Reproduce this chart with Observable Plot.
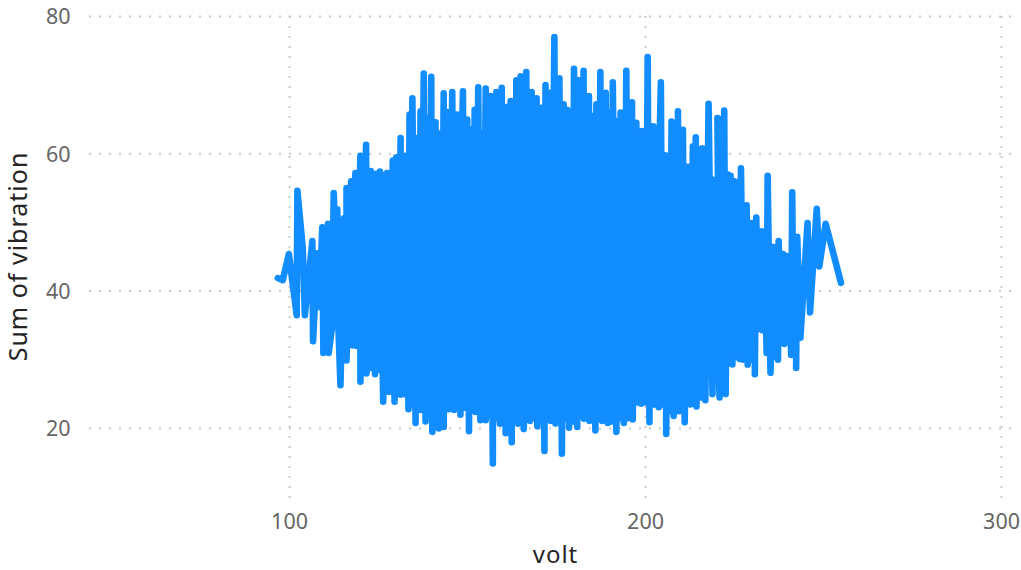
<!DOCTYPE html>
<html>
<head>
<meta charset="utf-8">
<script src="https://cdn.jsdelivr.net/npm/d3@7"></script>
<script src="https://cdn.jsdelivr.net/npm/@observablehq/plot@0.6"></script>
<style>
html,body{margin:0;padding:0;background:#fff;overflow:hidden}
svg{display:block}
.axis-title text{letter-spacing:1px}
</style>
</head>
<body>
<div id="chart"></div>
<script>
const xTicks = [100, 200, 300];
const yTicks = [20, 40, 60, 80];
const xLabel = "volt";
const yLabel = "Sum of vibration";

// Left tail of the series, in reading order
const headVolt = [96.7,98.1,99.8,102.0,102.2,103.7,104.3,106.4,106.6,107.8,108.3,109.2,109.5,110.8,111.0,112.0];
const headVib  = [41.9,41.6,45.4,36.5,54.6,46.3,36.5,47.3,32.7,45.5,37.7,49.3,31.0,49.8,31.0,35.0];

// Upper spikes of the dense body
const peakVolt = [112.4,113.4,115.3,116.0,117.3,118.5,119.9,121.5,122.8,124.2,125.4,126.0,127.4,129.0,130.0,131.2,132.6,133.7,134.5,135.7,136.8,137.7,138.8,139.8,141.0,141.9,143.3,144.3,145.7,147.1,148.7,149.9,151.0,152.0,153.0,155.1,156.5,158.1,159.6,161.0,162.1,163.7,164.9,166.5,168.0,169.4,170.7,171.9,173.1,174.4,175.8,177.0,178.0,179.9,181.3,182.6,184.1,185.2,186.2,187.3,188.8,190.8,192.1,193.0,194.6,196.2,197.4,198.9,200.6,202.2,204.3,205.6,207.3,209.1,210.5,211.9,213.3,214.1,215.9,217.7,219.0,220.2,222.1,223.9,225.0,226.8,228.4,229.7,231.1,232.6,234.3,235.9,237.4,238.6,239.6,241.2,242.6];
const peakVib  = [54.3,51.9,50.6,55.0,56.0,57.2,59.7,61.3,57.5,57.1,57.4,56.9,57.2,59.0,59.5,62.3,59.7,65.7,68.1,62.3,66.2,71.7,65.2,71.2,64.6,63.0,68.8,66.1,69.0,65.7,69.1,65.0,63.5,66.4,69.7,69.5,68.4,69.0,69.6,66.8,67.7,70.7,71.3,71.9,69.0,68.1,66.7,70.0,68.9,77.0,71.0,67.2,66.4,72.4,70.7,72.1,68.4,65.5,67.2,71.9,68.9,70.4,64.8,66.0,72.1,67.5,64.5,63.3,74.1,64.0,70.4,59.8,64.7,66.2,63.5,58.1,61.1,62.4,60.8,67.3,56.2,65.2,66.3,56.8,56.0,57.9,52.5,49.9,50.7,48.7,56.8,46.4,47.3,45.4,45.1,54.4,47.9];

// Shoulders on the upper edge, between the spikes
const upperShoulderVolt = [153.8,157.3,162.9,167.2,175.1,179.0,180.6,183.3,189.8,193.8,195.4,199.8,201.4,206.5,208.2,215.0,216.8,221.1,223.0,225.9,227.6,233.4,235.1,240.4];
const upperShoulderVib  = [63,68,67.5,69,68.5,66,69,68,66,65,63,62.5,63,59.5,64,60.5,57,65,57,53,52,48.5,46.5,45];

// Lower spikes of the dense body
const troughVolt = [114.3,116.0,117.6,119.9,121.6,122.6,124.0,126.3,127.9,129.5,131.2,133.4,135.4,136.8,138.2,140.1,141.9,143.3,144.7,146.2,148.0,150.4,152.2,153.6,155.1,157.1,159.1,160.7,162.4,164.2,165.8,167.5,169.6,171.6,173.3,174.7,176.5,178.5,180.8,182.7,184.2,185.9,187.8,189.4,191.8,193.9,196.4,198.8,201.1,203.7,205.8,207.9,211.0,214.3,216.8,220.8,222.5,224.4,226.4,228.7,230.7,232.8,235.1,237.2,239.0,240.9,242.3,243.5];
const troughVib  = [26.3,29.9,32.1,26.8,28.0,28.8,27.9,23.9,25.3,23.9,24.9,22.8,20.8,22.7,21.0,19.5,20.0,20.2,22.8,22.7,22.0,19.6,22.4,21.2,21.2,14.9,20.7,19.3,18.0,20.7,19.9,21.1,20.3,16.7,21.1,20.7,16.3,20.1,20.2,21.4,21.1,19.7,21.1,20.8,19.5,20.8,21.3,23.6,20.9,23.1,19.2,21.8,20.9,23.2,24.1,24.5,25.0,29.3,30.1,29.3,27.9,34.3,28.1,30.0,32.3,30.7,28.8,33.2];

// Shoulders on the lower edge, between the spikes
const lowerShoulderVolt = [115.2,116.8,118.8,120.8,123.3,125.2,127.1,128.7,130.3,132.3,134.4,136.1,137.5,139.1,141.0,142.6,144.0,145.5,147.1,149.2,151.3,152.9,154.3,156.1,158.1,159.9,161.5,163.3,165.0,166.7,168.5,170.6,172.4,174.0,175.6,177.5,179.6,181.7,183.5,185.0,186.9,188.6,190.6,192.9,195.1,197.6,200.0,202.4,204.8,206.9,209.4,212.6,215.6,218.8,221.6,223.5,225.4,227.5,229.7,231.7,234.0,236.2,238.1,240.0,241.6,243.0];
const lowerShoulderVib  = [30.5,33,32,29,29,28.5,26,26,25.5,25,23.5,23.5,23.5,22,21.5,21,23.5,23.5,23,23,23.5,22.5,22,22,21.5,21,20.5,21.5,21,21.5,21.5,21,21.5,21.5,21.5,21.5,21,21.8,21.8,21.5,21.5,21.5,21,21.5,21.5,23.8,23.8,23.5,23.5,22.5,22.5,23.5,24.5,25,25.5,29.5,30.5,30,30,34.5,31,30.5,32.5,33,32,33.5];

// Right tail of the series, in reading order
const tailVolt = [245.5,246.2,248.1,248.8,250.6,254.9];
const tailVib  = [49.9,36.9,52.0,43.6,49.8,41.2];

// Walk the body in volt order, always swinging between the top and bottom edge
const body = [
  ...peakVolt.map((v, i) => ({volt: v, vibration: peakVib[i], up: true})),
  ...upperShoulderVolt.map((v, i) => ({volt: v, vibration: upperShoulderVib[i], up: true})),
  ...troughVolt.map((v, i) => ({volt: v, vibration: troughVib[i], up: false})),
  ...lowerShoulderVolt.map((v, i) => ({volt: v, vibration: lowerShoulderVib[i], up: false}))
].sort((a, b) => a.volt - b.volt);
const nearest = (list, v) => d3.least(list, d => Math.abs(d.volt - v));
const ups = body.filter(d => d.up), downs = body.filter(d => !d.up);
const walk = [];
body.forEach(d => {
  const last = walk[walk.length - 1];
  if (last && last.up === d.up) walk.push(nearest(d.up ? downs : ups, d.volt));
  walk.push(d);
});
const series = [
  ...headVolt.map((v, i) => ({volt: v, vibration: headVib[i]})),
  ...walk,
  ...tailVolt.map((v, i) => ({volt: v, vibration: tailVib[i]}))
];

const plot = Plot.plot({
  width: 1021,
  height: 570,
  marginLeft: 89,
  marginRight: 10,
  marginTop: 16,
  marginBottom: 70,
  style: {background: "#fff", fontFamily: "'Noto Sans', sans-serif"},
  x: {domain: [43.8, 302.8]},
  y: {domain: [9.5, 80]},
  marks: [
    Plot.ruleY(yTicks, {stroke: "#c8c8c8", strokeWidth: 2, strokeDasharray: "2 8"}),
    Plot.ruleX(xTicks, {stroke: "#c8c8c8", strokeWidth: 2, strokeDasharray: "2 8"}),
    Plot.axisX({ticks: xTicks, tickSize: 0, tickPadding: 13, label: null, fontSize: 21.5, color: "#666666"}),
    Plot.axisY({ticks: yTicks, tickSize: 0, tickPadding: 19, dy: 1, label: null, fontSize: 21.5, color: "#666666"}),
    Plot.line(series, {x: "volt", y: "vibration", stroke: "#118DFF", strokeWidth: 6.6, strokeLinejoin: "round", strokeLinecap: "round", curve: "linear"}),
    Plot.text([xLabel], {className: "axis-title", frameAnchor: "bottom", textAnchor: "middle", lineAnchor: "middle", dx: 5, dy: 55, fontSize: 24, fill: "#252423"}),
    Plot.text([yLabel], {className: "axis-title", frameAnchor: "left", textAnchor: "middle", lineAnchor: "middle", rotate: -90, dx: -71, dy: -2, fontSize: 25, fill: "#252423"})
  ]
});
document.getElementById("chart").appendChild(plot);
</script>
</body>
</html>
